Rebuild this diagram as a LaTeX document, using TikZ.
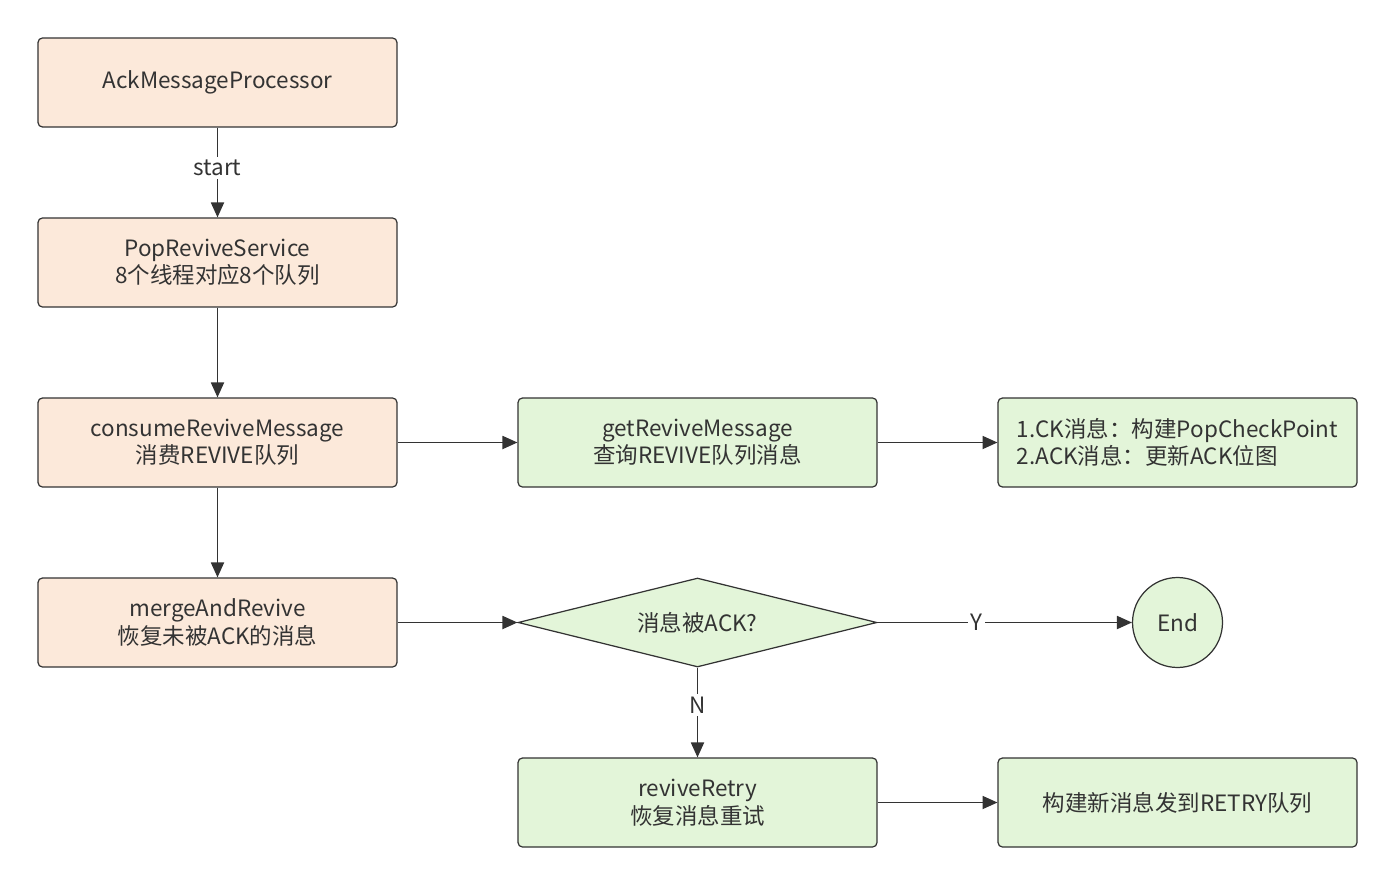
\documentclass[tikz,border=0pt]{standalone}
\usepackage{fontspec}
\setmainfont{Noto Sans CJK SC}
\usetikzlibrary{arrows.meta,positioning,shapes.geometric}
\definecolor{ink}{HTML}{333333}
\definecolor{peach}{HTML}{FCE9DA}
\definecolor{mint}{HTML}{E3F5D9}

\begin{document}
\begin{tikzpicture}[x=0.02cm,y=-0.02cm,>={Triangle[length=8.5pt,width=7.5pt]},every node/.style={font=\fontsize{12.8pt}{15.6pt}\selectfont,align=center,text=ink},procbox/.style={draw=ink,line width=0.7pt,rounded corners=2.5pt,minimum width=7.18cm,minimum height=1.78cm,fill=peach},stepbox/.style={draw=ink,line width=0.7pt,rounded corners=2.5pt,minimum width=7.18cm,minimum height=1.78cm,fill=mint},check/.style={draw=ink,line width=0.7pt,diamond,aspect=4.03,inner sep=0pt,minimum width=7.18cm,minimum height=1.78cm,fill=mint},finish/.style={draw=ink,line width=0.7pt,circle,minimum size=1.8cm,fill=mint},arrow/.style={->,draw=ink,line width=0.7pt},lbl/.style={fill=white,inner sep=1.5pt}]
\useasboundingbox (0,0) rectangle (1395,885);
\node[procbox] (ackproc) at (217.5,82.5) {AckMessageProcessor}; \node[procbox] (revsvc) at (217.5,262.5) {PopReviveService\\8个线程对应8个队列}; \node[procbox] (consume) at (217.5,442.5) {consumeReviveMessage\\消费REVIVE队列}; \node[procbox] (merge) at (217.5,622.5) {mergeAndRevive\\恢复未被ACK的消息};
\node[stepbox] (getmsg) at (697.5,442.5) {getReviveMessage\\查询REVIVE队列消息}; \node[stepbox,align=left] (build) at (1177.5,442.5) {1.CK消息：构建PopCheckPoint\\2.ACK消息：更新ACK位图};
\node[check] (acked) at (697.5,622.5) {消息被ACK?}; \node[finish] (done) at (1177.5,622.5) {End};
\node[stepbox] (retry) at (697.5,802.5) {reviveRetry\\恢复消息重试}; \node[stepbox] (resend) at (1177.5,802.5) {构建新消息发到RETRY队列};
\draw[arrow] (ackproc) -- node[lbl,pos=0.45] {start} (revsvc); \draw[arrow] (revsvc) -- (consume); \draw[arrow] (consume) -- (merge);
\draw[arrow] (consume) -- (getmsg); \draw[arrow] (getmsg) -- (build); \draw[arrow] (merge) -- (acked);
\draw[arrow] (acked) -- node[lbl,pos=0.39] {Y} (done); \draw[arrow] (acked) -- node[lbl,pos=0.42] {N} (retry); \draw[arrow] (retry) -- (resend);
\end{tikzpicture}
\end{document}
